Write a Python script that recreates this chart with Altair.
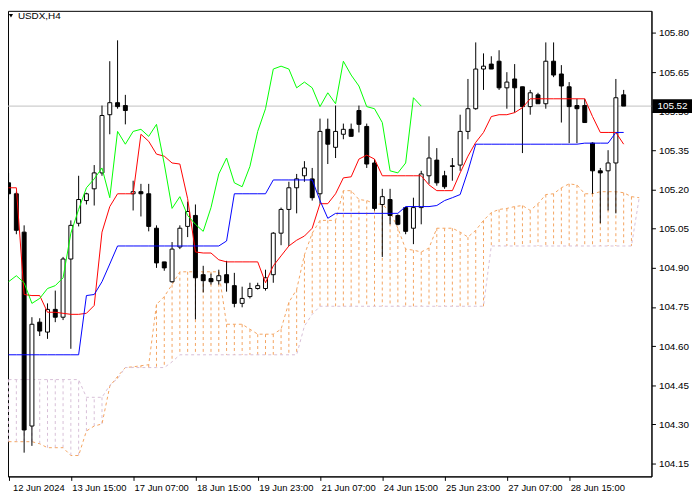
import altair as alt
import pandas as pd

# ---------------- data ----------------
opens = [105.226, 105.184, 105.037, 104.294, 104.692, 104.654, 104.741, 104.711, 104.934, 105.071,
         105.158, 105.203, 105.264, 105.487, 105.533, 105.522, 105.184, 105.192, 105.184, 105.052,
         104.923, 104.847, 104.980, 105.059, 105.101, 104.874, 104.859, 104.851, 104.874, 104.832,
         104.764, 104.790, 104.821, 104.821, 104.874, 105.033, 105.124, 105.207, 105.253, 105.241,
         105.184, 105.431, 105.362, 105.412, 105.431, 105.503, 105.442, 105.302, 105.143, 105.162,
         105.101, 105.131, 105.052, 105.131, 105.253, 105.313, 105.253, 105.291, 105.294, 105.423,
         105.510, 105.662, 105.681, 105.692, 105.590, 105.624, 105.594, 105.518, 105.563, 105.529,
         105.692, 105.643, 105.594, 105.522, 105.522, 105.378, 105.272, 105.272, 105.302, 105.563]
highs = [105.264, 105.192, 105.063, 104.711, 104.707, 104.764, 104.813, 104.942, 105.082, 105.253,
         105.188, 105.294, 105.522, 105.692, 105.772, 105.563, 105.234, 105.222, 105.222, 105.063,
         104.923, 104.999, 105.063, 105.154, 105.143, 104.908, 104.878, 104.893, 104.927, 104.881,
         104.828, 104.843, 104.843, 104.893, 105.037, 105.131, 105.230, 105.260, 105.309, 105.283,
         105.472, 105.472, 105.522, 105.453, 105.453, 105.522, 105.453, 105.317, 105.203, 105.203,
         105.105, 105.131, 105.169, 105.272, 105.404, 105.359, 105.272, 105.321, 105.487, 105.624,
         105.764, 105.722, 105.711, 105.734, 105.650, 105.681, 105.594, 105.582, 105.571, 105.764,
         105.764, 105.677, 105.612, 105.548, 105.548, 105.381, 105.283, 105.351, 105.624, 105.582]
lows = [105.162, 105.029, 104.192, 104.218, 104.639, 104.628, 104.692, 104.700, 104.590, 105.059,
        105.143, 105.139, 105.253, 105.412, 105.510, 105.450, 105.120, 105.097, 105.040, 104.900,
        104.889, 104.843, 104.972, 105.018, 104.703, 104.806, 104.836, 104.836, 104.809, 104.749,
        104.749, 104.783, 104.817, 104.813, 104.843, 104.987, 104.984, 105.109, 105.230, 105.158,
        105.146, 105.298, 105.321, 105.393, 105.404, 105.419, 105.283, 105.120, 104.942, 105.067,
        105.063, 105.029, 104.991, 105.067, 105.222, 105.215, 105.203, 105.234, 105.272, 105.393,
        105.506, 105.582, 105.662, 105.582, 105.510, 105.495, 105.340, 105.487, 105.529, 105.510,
        105.631, 105.457, 105.378, 105.378, 105.457, 105.184, 105.071, 105.120, 105.109, 105.529]
closes = [105.184, 105.044, 104.279, 104.684, 104.658, 104.741, 104.711, 104.934, 105.063, 105.162,
          105.184, 105.264, 105.484, 105.533, 105.518, 105.503, 105.192, 105.184, 105.059, 104.919,
          104.900, 104.972, 105.052, 105.116, 104.862, 104.851, 104.847, 104.870, 104.843, 104.764,
          104.783, 104.821, 104.832, 104.862, 105.033, 105.124, 105.207, 105.241, 105.283, 105.169,
          105.423, 105.374, 105.423, 105.431, 105.404, 105.450, 105.298, 105.128, 105.173, 105.101,
          105.067, 105.040, 105.131, 105.260, 105.321, 105.226, 105.211, 105.289, 105.423, 105.510,
          105.662, 105.673, 105.662, 105.590, 105.612, 105.590, 105.518, 105.571, 105.529, 105.692,
          105.639, 105.597, 105.518, 105.510, 105.457, 105.272, 105.264, 105.302, 105.552, 105.520]

tenkan = [105.207, 105.207, 104.798, 104.794, 104.794, 104.730, 104.730, 104.726, 104.722, 104.722,
          104.726, 104.756, 105.037, 105.135, 105.184, 105.184, 105.184, 105.412, 105.385, 105.336,
          105.328, 105.302, 105.298, 105.165, 104.961, 104.957, 104.957, 104.931, 104.923, 104.923,
          104.923, 104.923, 104.923, 104.843, 104.908, 104.946, 104.984, 105.006, 105.022, 105.052,
          105.146, 105.146, 105.184, 105.245, 105.249, 105.317, 105.332, 105.317, 105.253, 105.253,
          105.253, 105.253, 105.253, 105.253, 105.218, 105.196, 105.196, 105.196, 105.264, 105.328,
          105.381, 105.419, 105.480, 105.487, 105.487, 105.495, 105.514, 105.548, 105.548, 105.548,
          105.548, 105.548, 105.548, 105.548, 105.548, 105.480, 105.419, 105.419, 105.419, 105.374]
kijun = [104.567, 104.567, 104.567, 104.567, 104.567, 104.567, 104.567, 104.567, 104.567, 104.567,
         104.794, 104.798, 104.847, 104.915, 104.984, 104.984, 104.984, 104.984, 104.984, 104.984,
         104.984, 104.984, 104.984, 104.984, 104.984, 104.984, 104.984, 104.984, 105.003, 105.184,
         105.184, 105.184, 105.184, 105.184, 105.237, 105.237, 105.237, 105.237, 105.237, 105.237,
         105.158, 105.090, 105.109, 105.109, 105.109, 105.109, 105.109, 105.109, 105.109, 105.109,
         105.109, 105.135, 105.135, 105.135, 105.135, 105.139, 105.158, 105.169, 105.181, 105.271,
         105.374, 105.374, 105.374, 105.374, 105.374, 105.374, 105.374, 105.374, 105.374, 105.374,
         105.374, 105.374, 105.374, 105.374, 105.378, 105.378, 105.378, 105.378, 105.419, 105.419]
senkou_a = [104.234, 104.234, 104.234, 104.234, 104.226, 104.211, 104.211, 104.211, 104.181, 104.181,
            104.275, 104.294, 104.302, 104.446, 104.484, 104.518, 104.521, 104.525, 104.529, 104.760,
            104.790, 104.836, 104.885, 104.885, 104.885, 104.885, 104.885, 104.885, 104.684, 104.684,
            104.684, 104.665, 104.646, 104.646, 104.646, 104.665, 104.768, 104.817, 104.950, 105.033,
            105.082, 105.082, 105.082, 105.196, 105.196, 105.162, 105.158, 105.146, 105.143, 105.116,
            105.052, 104.972, 104.968, 104.961, 104.976, 105.052, 105.052, 105.052, 105.037, 105.018,
            105.044, 105.082, 105.112, 105.124, 105.128, 105.135, 105.139, 105.120, 105.146, 105.181,
            105.184, 105.207, 105.222, 105.218, 105.184, 105.184, 105.192, 105.192, 105.192, 105.188,
            105.173, 105.169]
senkou_b = [104.472, 104.472, 104.472, 104.472, 104.472, 104.472, 104.472, 104.472, 104.472, 104.472,
            104.404, 104.404, 104.404, 104.450, 104.476, 104.518, 104.518, 104.518, 104.518, 104.518,
            104.518, 104.540, 104.567, 104.567, 104.567, 104.567, 104.567, 104.567, 104.567, 104.567,
            104.567, 104.567, 104.567, 104.567, 104.567, 104.567, 104.567, 104.567, 104.677, 104.722,
            104.753, 104.753, 104.753, 104.753, 104.753, 104.753, 104.753, 104.753, 104.753, 104.753,
            104.753, 104.753, 104.753, 104.753, 104.753, 104.753, 104.753, 104.753, 104.753, 104.753,
            104.753, 104.753, 104.984, 104.984, 104.984, 104.984, 104.984, 104.984, 104.984, 104.984,
            104.984, 104.984, 104.984, 104.984, 104.984, 104.984, 104.984, 104.984, 104.984, 104.984,
            104.984, 105.169]

x_tick_labels = ["12 Jun 2024", "13 Jun 15:00", "17 Jun 07:00", "18 Jun 15:00", "19 Jun 23:00",
                 "21 Jun 07:00", "24 Jun 15:00", "25 Jun 23:00", "27 Jun 07:00", "28 Jun 15:00"]
x_tick_bars = [0, 8, 16, 24, 32, 40, 48, 56, 64, 72]
y_ticks = [104.15, 104.30, 104.45, 104.60, 104.75, 104.90, 105.05, 105.20, 105.35, 105.50, 105.65, 105.80]
last_price = 105.52
symbol_title = "USDX,H4"
chikou_shift = 26

# ---------------- tables ----------------
n = len(closes)
candles = pd.DataFrame({"bar": list(range(n)), "open": opens, "high": highs,
                        "low": lows, "close": closes})
candles["dir"] = ["bull" if c >= o else "bear" for o, c in zip(opens, closes)]

lines = pd.DataFrame({"bar": list(range(n)), "tenkan": tenkan, "kijun": kijun})
chikou = pd.DataFrame({"bar": list(range(n - chikou_shift)), "chikou": closes[chikou_shift:]})

cloud = pd.DataFrame({"bar": list(range(len(senkou_a))), "a": senkou_a, "b": senkou_b})
cloud["kind"] = ["cloud_up" if a >= b else "cloud_down" for a, b in zip(senkou_a, senkou_b)]

FONT = "Liberation Sans"
W, H = 651, 471

xscale = alt.Scale(domain=[0.5625, 81.9375], nice=False, zero=False)
yscale = alt.Scale(domain=[104.101, 105.885], nice=False, zero=False)

label_js = "[" + ",".join("'%s'" % s for s in x_tick_labels) + "][round(datum.value/8)]"
x_axis = alt.Axis(values=x_tick_bars, labelExpr=label_js, orient="bottom", tickSize=4,
                  labelAlign="left", labelBaseline="top", labelPadding=2, labelFlush=False,
                  labelOverlap=False, title=None, grid=False, labelFontSize=9.5,
                  labelOffset={"condition": {"test": "datum.value == 0", "value": 4}, "value": 1})
y_axis = alt.Axis(values=y_ticks, format=".2f", orient="right", tickSize=4, labelPadding=3,
                  labelFlush=False, labelOverlap=False, title=None, grid=False, labelFontSize=10)


def X(field):
    return alt.X(field, type="quantitative", scale=xscale, axis=x_axis)


def Y(field):
    return alt.Y(field, type="quantitative", scale=yscale, axis=y_axis)


price_df = pd.DataFrame({"price": [last_price], "label": ["%.2f" % last_price]})

price_line = alt.Chart(price_df).mark_rule(color="#C0C0C0", strokeWidth=1, clip=True).encode(
    y=Y("price"))

hatch = alt.Chart(cloud).mark_rule(strokeDash=[3, 3], strokeWidth=1, clip=True).encode(
    x=X("bar"), y=Y("a"), y2="b",
    stroke=alt.Stroke("kind:N", scale=alt.Scale(domain=["cloud_up", "cloud_down"],
                                                range=["#F4A460", "#D8BFD8"]), legend=None))
span_a = alt.Chart(cloud).mark_line(color="#F4A460", strokeDash=[3, 3], strokeWidth=1, clip=True).encode(
    x=X("bar"), y=Y("a"))
span_b = alt.Chart(cloud).mark_line(color="#D8BFD8", strokeDash=[3, 3], strokeWidth=1, clip=True).encode(
    x=X("bar"), y=Y("b"))

wicks = alt.Chart(candles).mark_rule(color="black", strokeWidth=1, clip=True).encode(
    x=X("bar"), y=Y("low"), y2="high")
bodies = alt.Chart(candles).mark_bar(width=4, stroke="black", strokeWidth=1, clip=True).encode(
    x=X("bar"), y=Y("open"), y2="close",
    fill=alt.Fill("dir:N", scale=alt.Scale(domain=["bull", "bear"], range=["white", "black"]),
                  legend=None))

tenkan_line = alt.Chart(lines).mark_line(color="#FF0000", strokeWidth=1, clip=True).encode(
    x=X("bar"), y=Y("tenkan"))
kijun_line = alt.Chart(lines).mark_line(color="#0000FF", strokeWidth=1, clip=True).encode(
    x=X("bar"), y=Y("kijun"))
chikou_line = alt.Chart(chikou).mark_line(color="#00FF00", strokeWidth=1, clip=True).encode(
    x=X("bar"), y=Y("chikou"))

price_box = alt.Chart(price_df).mark_tick(color="black", orient="horizontal", size=40,
                                          thickness=14, opacity=1).encode(
    y=Y("price"), x=alt.value(672))
price_text = alt.Chart(price_df).mark_text(color="white", align="left", baseline="middle",
                                           font=FONT, fontSize=10).encode(
    y=Y("price"), x=alt.value(657), text="label:N")

title_df = pd.DataFrame({"t": [symbol_title]})
title_text = alt.Chart(title_df).mark_text(align="left", baseline="middle", font=FONT,
                                           fontSize=10, color="black").encode(
    x=alt.value(10), y=alt.value(5), text="t:N")
title_tri = alt.Chart(title_df).mark_point(shape="triangle-down", filled=True, size=18,
                                           color="black", opacity=1).encode(
    x=alt.value(3), y=alt.value(5))

chart = alt.layer(
    price_line, hatch, span_a, span_b, wicks, bodies, tenkan_line, kijun_line, chikou_line,
    price_box, price_text, title_text, title_tri
).resolve_scale(
    stroke="independent", fill="independent"
).properties(
    width=W, height=H,
    autosize=alt.AutoSizeParams(type="none"),
    padding={"left": 0, "top": 0, "right": 41, "bottom": 21},
    background="white",
).configure_view(
    stroke="black", strokeWidth=1
).configure_axis(
    domainColor="black", tickColor="black", labelColor="black", labelFont=FONT,
    domainWidth=1, tickWidth=1
)

chart.save("out.html", embed_options={"renderer": "svg", "actions": False})
